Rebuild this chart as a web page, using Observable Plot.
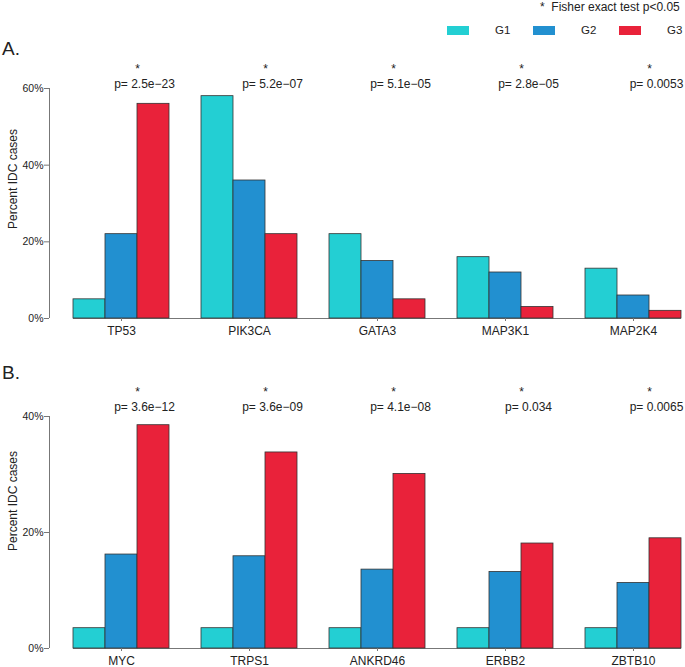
<!DOCTYPE html>
<html><head><meta charset="utf-8">
<script src="https://cdn.jsdelivr.net/npm/d3@7"></script>
<script src="https://cdn.jsdelivr.net/npm/@observablehq/plot@0.6"></script>
<style>
body{margin:0;background:#fff;font-family:"Liberation Sans",Arial,sans-serif;color:#222}
#wrap{position:relative;width:685px;height:667px;overflow:hidden;background:#fff}
.abs{position:absolute;line-height:1;white-space:nowrap}
.sw{position:absolute;width:22px;height:9px}
.ylab{position:absolute;line-height:1;white-space:nowrap;font-size:12px;transform:translate(-50%,-50%) rotate(-90deg)}
#svgA,#svgB{position:absolute;left:0}
</style></head><body><div id="wrap">
<div class="abs" style="left:540px;top:1px;font-size:12px">*&nbsp;&nbsp;Fisher exact test p&lt;0.05</div>
<div id="legend"></div>
<div class="abs" style="left:2px;top:39px;font-size:19px">A.</div>
<div class="abs" style="left:2px;top:363px;font-size:19px">B.</div>
<div class="ylab" style="left:13px;top:179px">Percent IDC cases</div>
<div class="ylab" style="left:13px;top:501px">Percent IDC cases</div>
<div id="svgA" style="top:0"></div>
<div id="svgB" style="top:340px"></div>
</div>
<script>
const groups = ["G1", "G2", "G3"];
const colors = ["#23CFD3", "#2290D0", "#E9223A"];

const genesA = ["TP53", "PIK3CA", "GATA3", "MAP3K1", "MAP2K4"];
const g1A = [5, 58, 22, 16, 13];
const g2A = [22, 36, 15, 12, 6];
const g3A = [56, 22, 5, 3, 2];
const pA = ["2.5e\u221223", "5.2e\u221207", "5.1e\u221205", "2.8e\u221205", "0.0053"];
const ticksA = [0, 20, 40, 60];

const genesB = ["MYC", "TRPS1", "ANKRD46", "ERBB2", "ZBTB10"];
const g1B = [3.5, 3.5, 3.5, 3.5, 3.5];
const g2B = [16.2, 15.9, 13.6, 13.2, 11.3];
const g3B = [38.5, 33.8, 30.1, 18.1, 19.0];
const pB = ["3.6e\u221212", "3.6e\u221209", "4.1e\u221208", "0.034", "0.0065"];
const ticksB = [0, 20, 40];

// legend
const legendX = [447, 533, 619];
const leg = document.getElementById("legend");
groups.forEach((g, i) => {
  const s = document.createElement("div");
  s.className = "sw";
  s.style.left = legendX[i] + "px"; s.style.top = "26px"; s.style.background = colors[i];
  leg.appendChild(s);
  const t = document.createElement("div");
  t.className = "abs";
  t.style.left = (legendX[i] + 48) + "px"; t.style.top = "25px"; t.style.fontSize = "11.5px";
  t.textContent = g;
  leg.appendChild(t);
});

function panel({genes, g1, g2, g3, p, ticks, height, mTop, mBottom, starDy, pDy}) {
  const rows = genes.flatMap((gene, i) => [g1[i], g2[i], g3[i]].map((v, j) => ({gene, group: groups[j], value: v})));
  const width = 685, mL = 73, mR = 4, pad = 0.25;
  const step = (width - mL - mR) / (genes.length - pad);
  const sub = step * (1 - pad) / 3;
  const gap = step * pad;
  const axisShift = -24;
  const top = ticks[ticks.length - 1];
  return Plot.plot({
    width, height, marginLeft: mL, marginRight: mR, marginTop: mTop, marginBottom: mBottom,
    style: {fontFamily: "Liberation Sans, Arial, sans-serif", fontSize: "12px", color: "#222", background: "transparent"},
    fx: {domain: genes, paddingInner: pad, paddingOuter: 0, label: null},
    x: {domain: groups, padding: 0, axis: null},
    y: {domain: [0, top], axis: null},
    color: {domain: groups, range: colors},
    marks: [
      Plot.ruleY(genes.slice(0, -1), {fx: d => d, y: () => 0, insetRight: -gap, stroke: "#777"}),
      Plot.ruleY(genes.slice(-1), {fx: d => d, y: () => 0, stroke: "#777"}),
      Plot.barY(rows, {fx: "gene", x: "group", y: "value", fill: "group", stroke: "#333", strokeWidth: 0.8}),
      Plot.ruleX([genes[0]], {fx: d => d, x: () => groups[0], y1: () => 0, y2: () => top, dx: -sub / 2 + axisShift, stroke: "#777"}),
      Plot.axisY({ticks, tickFormat: d => d + "%", dx: axisShift, tickSize: 5, tickPadding: 1, fontSize: 10.5, stroke: "#777", fill: "#222", label: null}),
      Plot.axisFx({anchor: "bottom", tickSize: 3, tickPadding: 5, fontSize: 12, stroke: "#777", fill: "#222", label: null}),
      Plot.text(genes, {fx: d => d, text: () => "*", frameAnchor: "top", dy: starDy, dx: sub / 2, fontSize: 12, fill: "#222"}),
      Plot.text(genes, {fx: d => d, text: (d, i) => "p= " + p[i], frameAnchor: "top", dy: pDy, dx: 23, fontSize: 12, fill: "#222"})
    ]
  });
}

document.getElementById("svgA").appendChild(panel({
  genes: genesA, g1: g1A, g2: g2A, g3: g3A, p: pA, ticks: ticksA,
  height: 340, mTop: 88, mBottom: 22, starDy: -24, pDy: -9
}));
document.getElementById("svgB").appendChild(panel({
  genes: genesB, g1: g1B, g2: g2B, g3: g3B, p: pB, ticks: ticksB,
  height: 327, mTop: 76, mBottom: 19, starDy: -29, pDy: -14
}));
</script>
</body></html>
